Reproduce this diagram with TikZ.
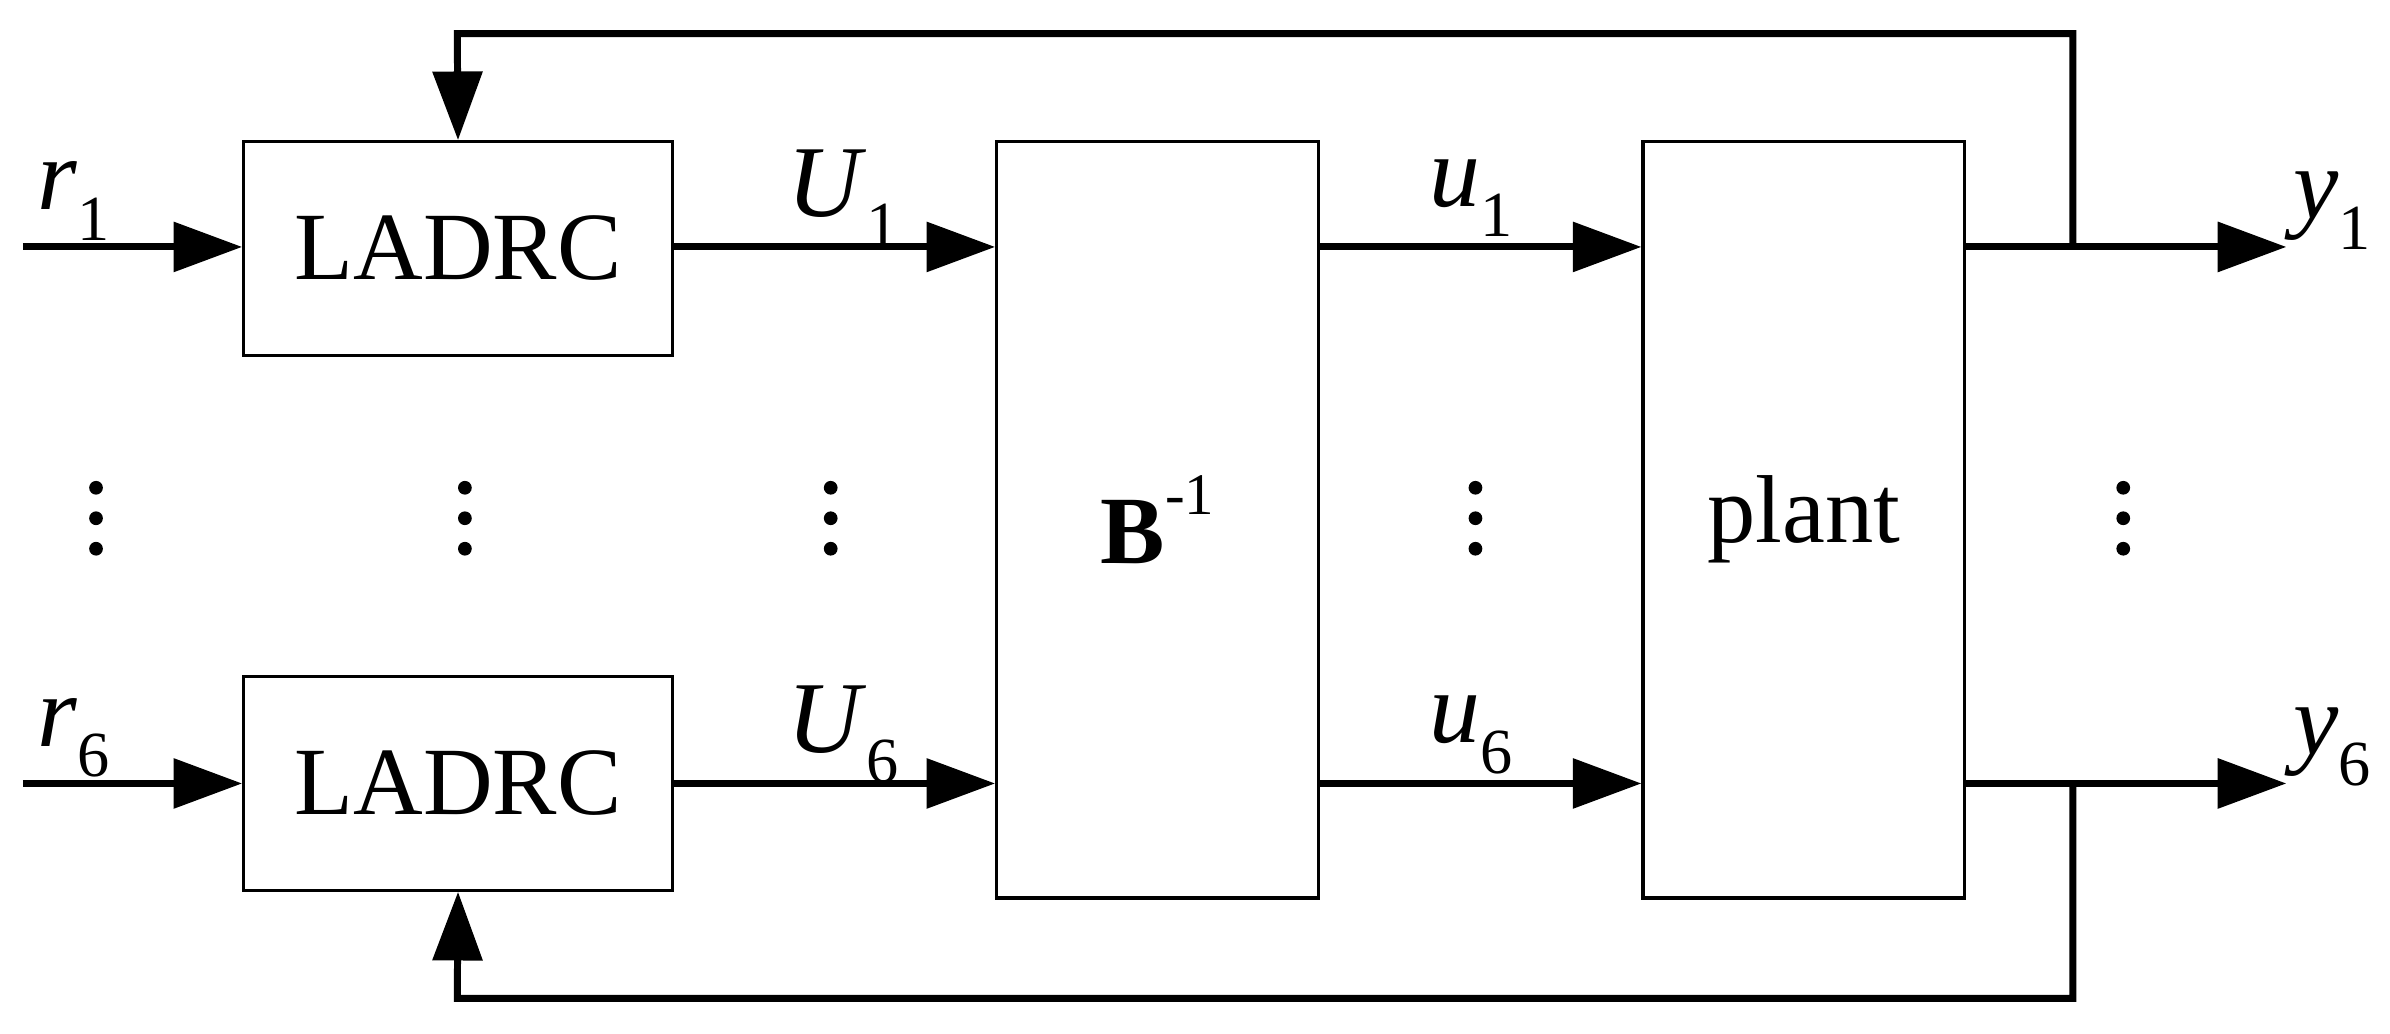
\documentclass[tikz,border=0pt]{standalone}
\usepackage{fontspec}
\setmainfont{Liberation Serif}
\usetikzlibrary{arrows.meta}
\newcommand{\lbl}[2]{\textit{#1}\raisebox{-0.3em}{\fontsize{12}{14}\selectfont #2}}
\begin{document}
\begin{tikzpicture}[x=0.01cm,y=-0.01cm,
  box/.style={draw,line width=0.6pt,inner sep=0},
  ln/.style={line width=1.3pt},
  arr/.style={ln,-{Triangle[length=0.45cm,width=0.32cm]}},
  lab/.style={font=\fontsize{19}{22}\selectfont}]
\useasboundingbox (0,0) rectangle (1568,678);
\node[box,minimum width=2.81cm,minimum height=1.40cm,font=\fontsize{18}{20}\selectfont] (L1) at (300.5,163) {LADRC};
\node[box,minimum width=2.81cm,minimum height=1.40cm,font=\fontsize{18}{20}\selectfont] (L6) at (300.5,514) {LADRC};
\node[box,minimum width=2.11cm,minimum height=4.96cm,font=\fontsize{18}{20}\selectfont] (B) at (759.5,341) {\textbf{B}\raisebox{0.5em}{\fontsize{11}{12}\selectfont -1}};
\node[box,minimum width=2.11cm,minimum height=4.96cm,font=\fontsize{18}{20}\selectfont] (P) at (1183.5,341) {plant};
\coordinate (r1) at (15,162); \coordinate (r6) at (15,514);
\coordinate (y1) at (1500,162); \coordinate (y6) at (1500,514);
\coordinate (t1) at (1360,162); \coordinate (t6) at (1360,514);
\draw[arr] (r1) -- (L1.west|-r1);
\draw[arr] (r6) -- (L6.west|-r6);
\draw[arr] (L1.east|-r1) -- (B.west|-r1);
\draw[arr] (L6.east|-r6) -- (B.west|-r6);
\draw[arr] (B.east|-r1) -- (P.west|-r1);
\draw[arr] (B.east|-r6) -- (P.west|-r6);
\draw[arr] (P.east|-r1) -- (y1);
\draw[arr] (P.east|-r6) -- (y6);
\draw[arr] (t1) -- (1360,22) -- (300,22) -- (L1.north);
\draw[arr] (t6) -- (1360,655) -- (300,655) -- (L6.south);
\node[lab] at (48,132) {\lbl{r}{1}};
\node[lab] at (48,484) {\lbl{r}{6}};
\node[lab] at (553,130) {\lbl{U}{1}};
\node[lab] at (553,482) {\lbl{U}{6}};
\node[lab] at (965,130) {\lbl{u}{1}};
\node[lab] at (965,482) {\lbl{u}{6}};
\node[lab] at (1530,138) {\lbl{y}{1}};
\node[lab] at (1530,490) {\lbl{y}{6}};
\foreach \x in {63,305,545,968,1393}
  \foreach \y in {320,340,360}
    \fill (\x,\y) circle (0.045cm);
\end{tikzpicture}
\end{document}
